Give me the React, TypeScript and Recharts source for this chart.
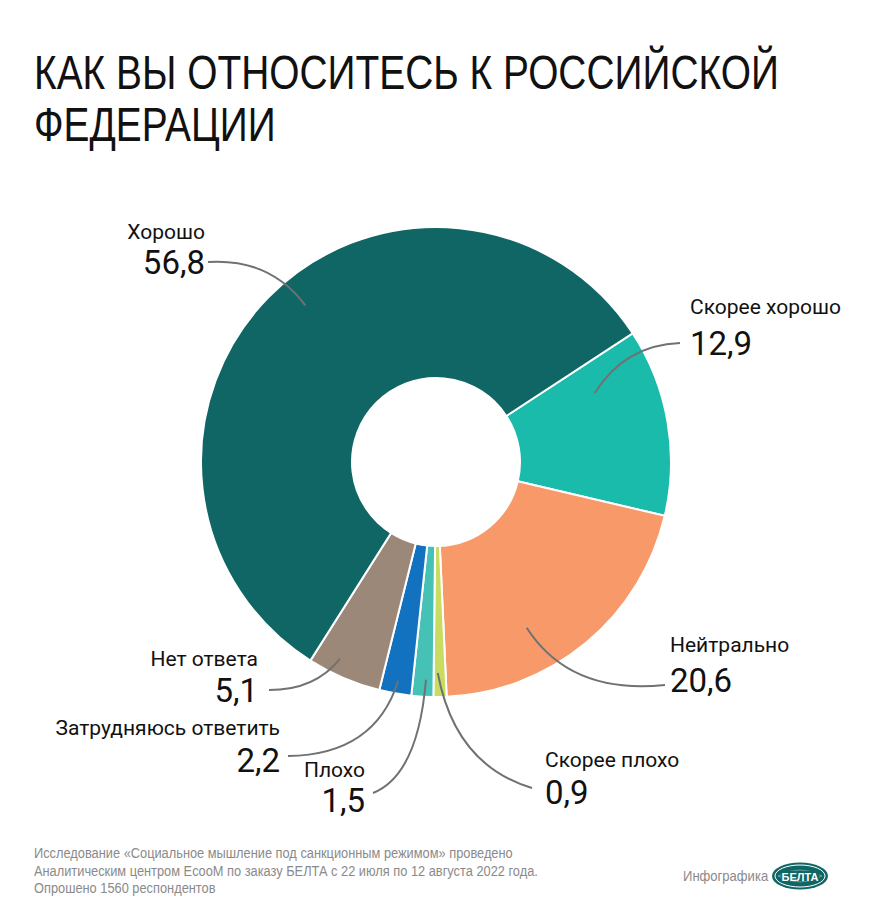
import React from 'react';
import { PieChart, Pie, Cell } from 'recharts';

const categories = ['Скорее хорошо', 'Нейтрально', 'Скорее плохо', 'Плохо', 'Затрудняюсь ответить', 'Нет ответа', 'Хорошо'];
const values = [12.9, 20.6, 0.9, 1.5, 2.2, 5.1, 56.8];
const valueLabels = ['12,9', '20,6', '0,9', '1,5', '2,2', '5,1', '56,8'];
const colors = ['#1bbbac', '#f79968', '#c8dc62', '#45c1b6', '#1272bf', '#9c8878', '#0f6664'];

// label layout (relative to pie centre): anchor angle shift & radius, line end, control point, text position
const labelLayout = [
  { shift: 13.5, r: 173, ex: 244, ey: -119, qx: 189, qy: -117, tx: 254, side: 'start', ny: -155, vy: -119 },
  { shift: -11, r: 189, ex: 229, ey: 223, qx: 134, qy: 233, tx: 234, side: 'start', ny: 183, vy: 218 },
  { shift: -0.5, r: 211, ex: 96, ey: 326, qx: 19, qy: 303, tx: 109, side: 'start', ny: 298, vy: 330 },
  { shift: 0.7, r: 218, ex: -63, ey: 331, qx: -18, qy: 313, tx: -71, side: 'end', ny: 308, vy: 338 },
  { shift: 0.2, r: 222, ex: -148, ey: 294, qx: -61, qy: 293, tx: -156, side: 'end', ny: 266, vy: 298 },
  { shift: -2.9, r: 219, ex: -167, ey: 228, qx: -121, qy: 228, tx: -178, side: 'end', ny: 197, vy: 228 },
  { shift: -5.6, r: 204, ex: -228, ey: -200, qx: -166, qy: -204, tx: -231, side: 'end', ny: -230, vy: -200 },
];

const data = categories.map((name, i) => ({ name, value: values[i], label: valueLabels[i] }));

const RAD = Math.PI / 180;
const FONT = 'Roboto, "Noto Sans", sans-serif';
const NARROW = '"Liberation Sans", Arial, sans-serif';

const renderLabel = (props: any) => {
  const { cx, cy, midAngle, index } = props;
  const L = labelLayout[index];
  const a = (midAngle + L.shift) * RAD;
  const ax = cx + L.r * Math.cos(a);
  const ay = cy - L.r * Math.sin(a);
  const d = `M${ax},${ay} Q${cx + L.qx},${cy + L.qy} ${cx + L.ex},${cy + L.ey}`;
  return (
    <g key={`lbl-${index}`}>
      <path d={d} fill="none" stroke="#6f7274" strokeWidth={2} />
      <text x={cx + L.tx} y={cy + L.ny} textAnchor={L.side} dominantBaseline="central"
        fontFamily={FONT} fontSize={21} fill="#111">{data[index].name}</text>
      <text x={cx + L.tx} y={cy + L.vy} textAnchor={L.side} dominantBaseline="central"
        fontFamily={FONT} fontSize={33} fill="#111">{data[index].label}</text>
    </g>
  );
};

export default function App() {
  return (
    <div style={{ position: 'absolute', left: 0, top: 0, width: 870, height: 917, background: '#fff', overflow: 'hidden' }}>
      <div style={{ position: 'absolute', left: 34, top: 47, fontFamily: NARROW, fontSize: 48, lineHeight: '52px', color: '#111', whiteSpace: 'nowrap', transform: 'scaleX(0.81)', transformOrigin: '0 0' }}>
        <div>КАК ВЫ ОТНОСИТЕСЬ К РОССИЙСКОЙ</div>
        <div>ФЕДЕРАЦИИ</div>
      </div>
      <div style={{ position: 'absolute', left: 0, top: 0 }}>
        <PieChart width={870} height={917} margin={{ top: 0, right: 0, bottom: 0, left: 0 }}>
          <Pie data={data} dataKey="value" nameKey="name" cx={436} cy={462} innerRadius={84} outerRadius={235}
            startAngle={33.2} endAngle={-326.8} stroke="#fff" strokeWidth={2} isAnimationActive={false}
            label={renderLabel} labelLine={false}>
            {data.map((d, i) => <Cell key={d.name} fill={colors[i]} />)}
          </Pie>
        </PieChart>
      </div>
      <div style={{ position: 'absolute', left: 34, top: 845, fontFamily: NARROW, fontSize: 14, lineHeight: '17.5px', color: '#8a8a8a', whiteSpace: 'nowrap', transform: 'scaleX(0.915)', transformOrigin: '0 0' }}>
        <div>Исследование «Социальное мышление под санкционным режимом» проведено</div>
        <div>Аналитическим центром EcooM по заказу БЕЛТА с 22 июля по 12 августа 2022 года.</div>
        <div>Опрошено 1560 респондентов</div>
      </div>
      <div style={{ position: 'absolute', left: 683, top: 867, fontFamily: NARROW, fontSize: 15, lineHeight: '18px', color: '#8a8a8a', whiteSpace: 'nowrap', transform: 'scaleX(0.87)', transformOrigin: '0 0' }}>
        Инфографика
      </div>
      <svg style={{ position: 'absolute', left: 770, top: 861 }} width={60} height={30}>
        <ellipse cx={30} cy={15} rx={28} ry={13.5} fill="#0f6664" />
        <ellipse cx={30} cy={15} rx={25} ry={11} fill="none" stroke="#fff" strokeWidth={1} />
        <path d="M8,15 Q30,3 52,15 M8,15 Q30,27 52,15" fill="none" stroke="#fff" strokeWidth={0.6} opacity={0.6} />
        <rect x={11} y={10} width={38} height={10} fill="#0f6664" />
        <text x={30} y={15.5} textAnchor="middle" dominantBaseline="central" fontFamily={NARROW} fontWeight="bold" fontSize={11} fill="#fff">БЕЛТА</text>
      </svg>
    </div>
  );
}
